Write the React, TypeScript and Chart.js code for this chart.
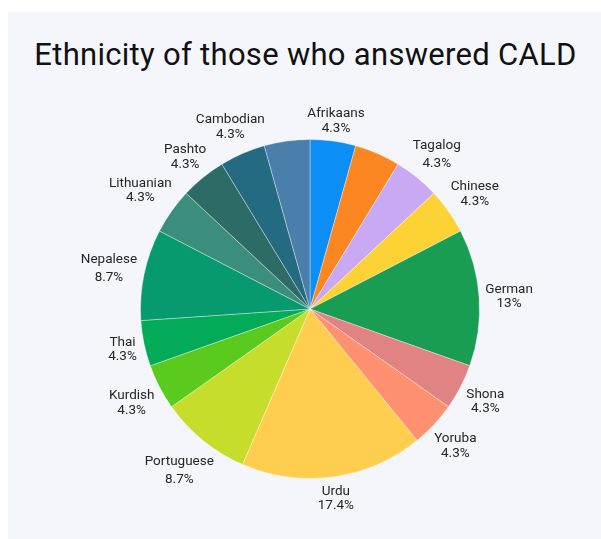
import React, { useEffect, useRef } from "react";
import { Chart, registerables } from "chart.js";

Chart.register(...registerables);

const TITLE = "Ethnicity of those who answered CALD";

// Slices in clockwise order from 12 o'clock. Two slices carry no visible label in the reference.
const categories: string[] = [
  "Afrikaans",
  "",
  "Tagalog",
  "Chinese",
  "German",
  "Shona",
  "Yoruba",
  "Urdu",
  "Portuguese",
  "Kurdish",
  "Thai",
  "Nepalese",
  "Lithuanian",
  "Pashto",
  "Cambodian",
  "",
];

const counts: number[] = [1, 1, 1, 1, 3, 1, 1, 4, 2, 1, 1, 2, 1, 1, 1, 1];

const sliceColors: string[] = [
  "#0b8ef5",
  "#fc8621",
  "#c9a8f4",
  "#fdd235",
  "#199d53",
  "#e18283",
  "#ff9170",
  "#ffce4e",
  "#c6dd2c",
  "#5aca1f",
  "#03aa57",
  "#079a6f",
  "#3b8e7c",
  "#2d6b66",
  "#246a80",
  "#4a7eab",
];

const LABEL_FONT = "13.5px Roboto, 'Noto Sans', sans-serif";

const sliceLabelPlugin = {
  id: "sliceLabels",
  afterDatasetsDraw(chart: any) {
    const ctx: CanvasRenderingContext2D = chart.ctx;
    const meta = chart.getDatasetMeta(0);
    const data = chart.data.datasets[0].data as number[];
    const total = data.reduce((a, b) => a + b, 0);
    ctx.save();
    ctx.font = LABEL_FONT;
    ctx.fillStyle = "#262626";
    ctx.textAlign = "center";
    ctx.textBaseline = "alphabetic";
    meta.data.forEach((arc: any, i: number) => {
      const name = chart.data.labels[i] as string;
      if (!name) return;
      const { x, y, startAngle, endAngle, outerRadius } = arc.getProps(
        ["x", "y", "startAngle", "endAngle", "outerRadius"],
        true
      );
      const mid = (startAngle + endAngle) / 2;
      const dx = Math.cos(mid);
      const dy = Math.sin(mid);
      const pct = Math.round((data[i] / total) * 1000) / 10;
      const pctText = `${pct}%`;
      const m1 = ctx.measureText(name);
      const m2 = ctx.measureText(pctText);
      const a1 = m1.actualBoundingBoxAscent;
      const d1 = m1.actualBoundingBoxDescent;
      const a2 = m2.actualBoundingBoxAscent;
      const d2 = m2.actualBoundingBoxDescent;
      const gap = 5.5;
      const h = a1 + d1 + gap + a2 + d2;
      const w = Math.max(m1.width, m2.width);
      const r0 = outerRadius + 5.5;
      const push = (w / 2) * Math.abs(dx) + (h / 2) * Math.abs(dy);
      const cx = x + dx * (r0 + push);
      const cy = y + dy * (r0 + push);
      const top = cy - h / 2;
      ctx.fillText(name, cx, top + a1);
      ctx.fillText(pctText, cx, top + a1 + d1 + gap + a2);
    });
    ctx.restore();
  },
};

export default function App() {
  const canvasRef = useRef<HTMLCanvasElement | null>(null);

  useEffect(() => {
    if (!canvasRef.current) return;
    const chart = new Chart(canvasRef.current, {
      type: "pie",
      data: {
        labels: categories,
        datasets: [
          {
            data: counts,
            backgroundColor: sliceColors,
            borderColor: "rgba(255,255,255,0.35)",
            borderWidth: 1,
          },
        ],
      },
      options: {
        responsive: false,
        animation: false,
        layout: {
          padding: { top: 139, left: 140, right: 121, bottom: 60 },
        },
        plugins: {
          legend: { display: false },
          tooltip: { enabled: false },
          title: { display: false },
        },
      },
      plugins: [sliceLabelPlugin],
    });
    return () => chart.destroy();
  }, []);

  return (
    <div
      style={{
        position: "fixed",
        left: 0,
        top: 0,
        width: 601,
        height: 539,
        overflow: "hidden",
        background: "#ffffff",
      }}
    >
      <div
        style={{
          position: "absolute",
          left: 8,
          top: 12,
          right: 0,
          bottom: 0,
          background: "#f5f6fb",
        }}
      />
      <div
        style={{
          position: "absolute",
          left: 0,
          top: 36,
          width: 611,
          textAlign: "center",
          fontFamily: "Roboto, 'Noto Sans', sans-serif",
          fontSize: 31,
          letterSpacing: "0.3px",
          lineHeight: "38px",
          color: "#111111",
          whiteSpace: "nowrap",
        }}
      >
        {TITLE}
      </div>
      <canvas
        ref={canvasRef}
        width={601}
        height={539}
        style={{ position: "absolute", left: 0, top: 0, width: 601, height: 539 }}
      />
    </div>
  );
}
